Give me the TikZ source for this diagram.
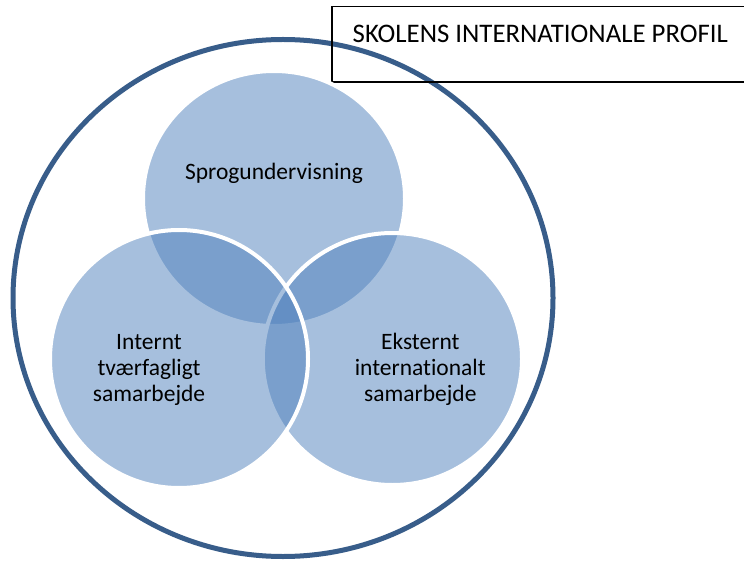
\documentclass[tikz,border=0pt]{standalone}
\usepackage{fontspec}
\setmainfont{Carlito}[Ligatures=NoCommon]
\definecolor{venn}{HTML}{4F81BD}
\definecolor{ring}{HTML}{385D8A}
\tikzset{
  vennc/.style={fill=venn, fill opacity=0.5, draw=white, draw opacity=1, line width=4pt},
  lbl/.style={anchor=base, inner sep=0pt, font=\fontsize{23.5}{26}\selectfont, text=black},
  ttl/.style={anchor=base west, inner sep=0pt, font=\fontsize{26.8}{30}\selectfont, text=black}
}
\begin{document}
\begin{tikzpicture}[x=1pt,y=-1pt]
\useasboundingbox (0,0) rectangle (744,561);
\fill[white] (0,0) rectangle (744,561);
% outer ellipse
\draw[ring, line width=5pt] (283,298) ellipse [x radius=270, y radius=258.5];
% title box
\draw[black, line width=1.3pt] (332,6.5) rectangle (760,82);
\node[ttl] (title) at (352.5,42.5) {SKOLENS INTERNATIONALE PROFIL};
% venn circles
\path[vennc] (274,198.5) ellipse [x radius=131, y radius=127.5];
\path[vennc] (392.4,359) ellipse [x radius=129.6, y radius=126];
\path[vennc] (179,359) ellipse [x radius=129, y radius=129];
% labels
\node[lbl] (sprog) at (274,179.3) {Sprogundervisning};
\node[lbl] (int1) at (149,349.3) {Internt};
\node[lbl] (int2) at (149,375.3) {tværfagligt};
\node[lbl] (int3) at (149,401.3) {samarbejde};
\node[lbl] (eks1) at (420.3,349.3) {Eksternt};
\node[lbl] (eks2) at (420.3,375.3) {internationalt};
\node[lbl] (eks3) at (420.3,401.3) {samarbejde};
\end{tikzpicture}
\end{document}
